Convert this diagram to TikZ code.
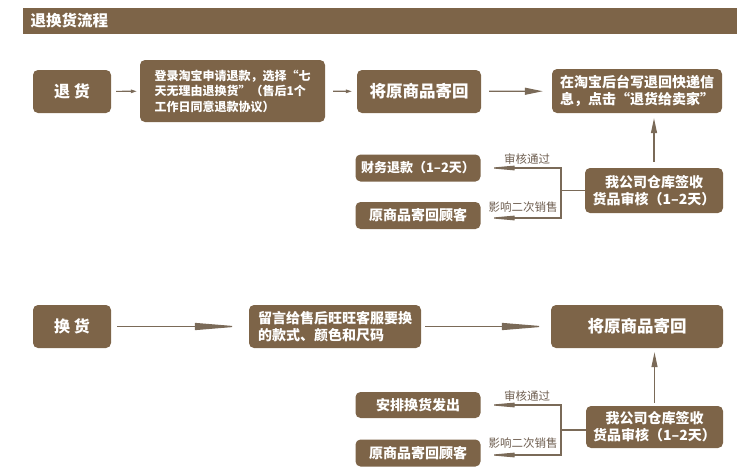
\documentclass[tikz,border=0pt]{standalone}
\usepackage{fontspec}
\setmainfont{Noto Sans CJK SC}
\usetikzlibrary{arrows.meta}
\definecolor{flowbrown}{HTML}{7D6448}
\definecolor{linebrown}{HTML}{7A6A58}
\definecolor{labelgray}{HTML}{6E5E50}

\begin{document}
\begin{tikzpicture}[
  x=1pt, y=-1pt,
  stepbox/.style 2 args={
    fill=flowbrown, rounded corners=5pt, text=white,
    minimum width=#1, minimum height=#2, inner sep=0pt,
    font=\fontsize{14}{17}\selectfont\bfseries, align=center
  },
  arr/.style 2 args={
    draw=linebrown, line width=1.2pt,
    -{Triangle[length=#1, width=#2]}
  },
  passlabel/.style={font=\fontsize{11.5}{13}\selectfont, text=labelgray},
]

\useasboundingbox (0,0) rectangle (750,475);

% Title bar
\fill[flowbrown] (23,8) rectangle (737,34);
\node[anchor=west, text=white, font=\fontsize{15.5}{18}\selectfont\bfseries]
  (title) at (27,21) {退换货流程};

% ---- Return flow ----
\node[stepbox={78pt}{43pt}, font=\fontsize{16}{19}\selectfont\bfseries]
  (ret) at (72,91.5) {退 货};
\node[stepbox={185pt}{62pt}, font=\fontsize{12}{15.5}\selectfont\bfseries, align=left]
  (retstep) at (232.5,91)
  {登录淘宝申请退款，选择“七\\天无理由退换货”（售后1个\\工作日同意退款协议）};
\node[stepbox={124pt}{43pt}, font=\fontsize{16.5}{19}\selectfont\bfseries]
  (retsend) at (419,91.5) {将原商品寄回};
\node[stepbox={170pt}{44pt}, align=left]
  (retinfo) at (637,91) {在淘宝后台写退回快递信\\息，点击“退货给卖家”};
\node[stepbox={138pt}{45pt}]
  (retcheck) at (654,190.5) {我公司仓库签收\\货品审核（1–2天）};
\node[stepbox={125pt}{27pt}, font=\fontsize{13}{16}\selectfont\bfseries]
  (retrefund) at (418,168) {财务退款（1–2天）};
\node[stepbox={125pt}{27pt}]
  (retback) at (418,215.5) {原商品寄回顾客};

\draw[arr={6pt}{3.5pt}, shorten <=5pt, shorten >=3pt] (ret) -- (retstep);
\draw[arr={6pt}{3.5pt}, shorten <=8pt, shorten >=5pt] (retstep) -- (retsend);
\draw[arr={18pt}{7pt}, shorten <=8pt, shorten >=9pt] (retsend) -- (retinfo);
\draw[arr={15pt}{6pt}, shorten <=6pt, shorten >=5pt]
  (retcheck.north) -- (retcheck.north |- retinfo.south);

% Check result fork
\coordinate (retfork) at (561,190.5);
\draw[draw=linebrown, line width=1.2pt] (retcheck.west) -- (retfork);
\draw[arr={28pt}{4.5pt}, shorten >=6pt] (retfork) |- (retrefund.east);
\draw[arr={28pt}{4.5pt}, shorten >=6pt] (retfork) |- ([yshift=-2.5pt]retback.east);
\node[passlabel] (retpass) at (527,159) {审核通过};
\node[passlabel] (retresale) at (523,207) {影响二次销售};

% ---- Exchange flow ----
\node[stepbox={78pt}{43pt}, font=\fontsize{16}{19}\selectfont\bfseries]
  (exc) at (72,326.5) {换 货};
\node[stepbox={172pt}{43pt}, align=left]
  (excmsg) at (335,326.5) {留言给售后旺旺客服要换\\的款式、颜色和尺码};
\node[stepbox={172pt}{43pt}, font=\fontsize{16.5}{19}\selectfont\bfseries]
  (excsend) at (637,326.5) {将原商品寄回};
\node[stepbox={137pt}{42pt}]
  (exccheck) at (654.5,427) {我公司仓库签收\\货品审核（1–2天）};
\node[stepbox={125pt}{26pt}]
  (excship) at (418,405) {安排换货发出};
\node[stepbox={125pt}{27pt}]
  (excback) at (418,453) {原商品寄回顾客};

\draw[arr={45pt}{7pt}, shorten <=6pt, shorten >=9pt] (exc) -- (excmsg);
\draw[arr={45pt}{7pt}, shorten <=4pt, shorten >=4pt] (excmsg) -- (excsend);
\draw[arr={15pt}{6pt}, shorten <=3pt, shorten >=4pt]
  (exccheck.north) -- (exccheck.north |- excsend.south);

% Check result fork
\coordinate (excfork) at (561,430);
\draw[draw=linebrown, line width=1.2pt] (exccheck.west |- excfork) -- (excfork);
\draw[arr={28pt}{4.5pt}, shorten >=6pt] (excfork) |- (excship.east);
\draw[arr={28pt}{4.5pt}, shorten >=6pt] (excfork) |- ([yshift=-2pt]excback.east);
\node[passlabel] (excpass) at (527,396) {审核通过};
\node[passlabel] (excresale) at (523,443) {影响二次销售};

\end{tikzpicture}
\end{document}
